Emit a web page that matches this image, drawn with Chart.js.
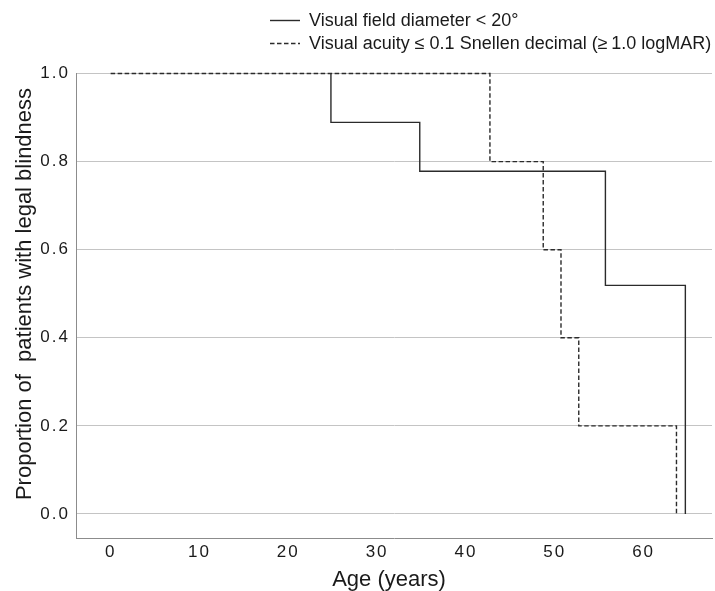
<!DOCTYPE html>
<html>
<head>
<meta charset="utf-8">
<script src="https://cdn.jsdelivr.net/npm/chart.js@4.4.1/dist/chart.umd.min.js"></script>
<style>
  html, body { margin: 0; padding: 0; background: #fff; }
  #chart { display: block; }
</style>
</head>
<body>
<canvas id="chart" width="715" height="591"></canvas>
<script>
// Series labels
var seriesLabels = ['Visual field diameter < 20°', 'Visual acuity ≤ 0.1 Snellen decimal (≥\u20091.0 logMAR)'];

// Visual field curve: age where each drop happens, and proportion after the drop
var fieldStartAge = 24.8;
var fieldAges = [24.8, 34.8, 55.7, 64.7];
var fieldProp = [0.889, 0.778, 0.519, 0.0];

// Visual acuity curve
var acuityStartAge = 0;
var acuityAges = [42.7, 48.7, 50.7, 52.7, 63.7];
var acuityProp = [0.8, 0.6, 0.4, 0.2, 0.0];

// Axis ticks
var xTicks = [0, 10, 20, 30, 40, 50, 60];
var yTicks = [0.0, 0.2, 0.4, 0.6, 0.8, 1.0];

var lineColor = '#2b2b2b';
var textColor = '#1a1a1a';
var fontFamily = "'Liberation Sans', Arial, sans-serif";

// build step points (start at 1.0, then one point per drop)
function stepPoints(start, ages, props) {
    var pts = [{ x: start, y: 1.0 }];
    ages.forEach(function(a, i) { pts.push({ x: a, y: props[i] }); });
    return pts;
}

// legend and axis titles drawn by hand to match the original placement
var annotate = {
    id: 'annotate',
    beforeDraw: function(chart) {
        chart.ctx.letterSpacing = '2px';
    },
    afterDraw: function(chart) {
        var ctx = chart.ctx;
        ctx.save();
        ctx.letterSpacing = '0px';
        ctx.fillStyle = textColor;
        ctx.textBaseline = 'middle';

        // legend
        var rows = [20, 43];
        chart.data.datasets.forEach(function(ds, i) {
            ctx.save();
            ctx.strokeStyle = ds.borderColor;
            ctx.lineWidth = ds.borderWidth;
            ctx.setLineDash(ds.borderDash || []);
            ctx.beginPath();
            ctx.moveTo(270, rows[i] + 0.5);
            ctx.lineTo(300, rows[i] + 0.5);
            ctx.stroke();
            ctx.restore();
            ctx.font = '18px ' + fontFamily;
            ctx.textAlign = 'left';
            ctx.fillText(ds.label, 309, rows[i] + 1);
        });

        // x title
        ctx.font = '22px ' + fontFamily;
        ctx.textAlign = 'center';
        ctx.fillText('Age (years)', 389, 580);

        // y title
        ctx.translate(25, 294);
        ctx.rotate(-Math.PI / 2);
        ctx.fillText('Proportion of  patients with legal blindness', 0, 0);
        ctx.restore();
    }
};

var ctx = document.getElementById('chart').getContext('2d');
new Chart(ctx, {
    type: 'line',
    data: {
        datasets: [{
            label: seriesLabels[0],
            data: stepPoints(fieldStartAge, fieldAges, fieldProp),
            borderColor: lineColor,
            borderWidth: 1.4,
            stepped: 'before',
            pointRadius: 0,
            fill: false,
            clip: false
        }, {
            label: seriesLabels[1],
            data: stepPoints(acuityStartAge, acuityAges, acuityProp),
            borderColor: lineColor,
            borderWidth: 1.4,
            borderDash: [4.5, 2.5],
            stepped: 'before',
            pointRadius: 0,
            fill: false,
            clip: false
        }]
    },
    options: {
        responsive: false,
        animation: false,
        devicePixelRatio: 1,
        layout: { padding: { top: 73.5, right: 3, left: 0, bottom: 0 } },
        plugins: {
            legend: { display: false },
            tooltip: { enabled: false }
        },
        scales: {
            x: {
                type: 'linear',
                min: -3.9,
                max: 67.7,
                afterBuildTicks: function(scale) {
                    scale.ticks = xTicks.map(function(v) { return { value: v }; });
                },
                afterFit: function(scale) { scale.height = 53; },
                grid: { display: false, drawTicks: false },
                border: { display: true, color: '#8c8c8c', width: 1 },
                ticks: {
                    color: textColor,
                    font: { size: 17, family: fontFamily },
                    padding: 4,
                    maxRotation: 0
                }
            },
            y: {
                min: -0.0545,
                max: 1.0,
                afterBuildTicks: function(scale) {
                    scale.ticks = yTicks.map(function(v) { return { value: v }; });
                },
                afterFit: function(scale) { scale.width = 76; },
                grid: { color: '#c4c4c4', lineWidth: 1, drawTicks: false },
                border: { display: true, color: '#8c8c8c', width: 1 },
                ticks: {
                    color: textColor,
                    font: { size: 17, family: fontFamily },
                    padding: 6,
                    callback: function(v) { return v.toFixed(1); }
                }
            }
        }
    },
    plugins: [annotate]
});
</script>
</body>
</html>
